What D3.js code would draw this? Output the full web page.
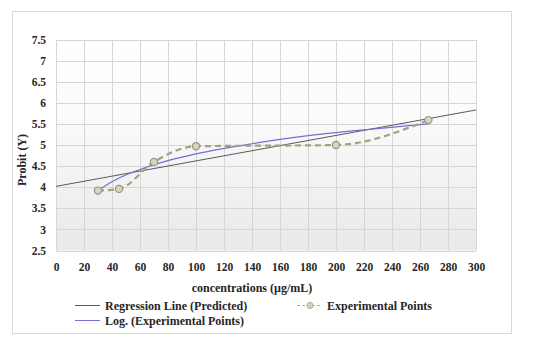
<!DOCTYPE html>
<html>
<head>
<meta charset="utf-8">
<script src="https://cdn.jsdelivr.net/npm/d3@7"></script>
<style>
  body { margin: 0; background: #fff; }
  svg text { font-family: "Liberation Serif", "DejaVu Serif", serif; font-weight: bold; fill: #262626; }
</style>
</head>
<body>
<svg id="chart" width="550" height="346"></svg>
<script>
// Experimental points
const concentrations = [30, 45, 70, 100, 200, 266];
const probits = [3.92, 3.96, 4.6, 4.97, 5.0, 5.59];

// Regression line (predicted) end points
const regressionX = [0, 300];
const regressionY = [4.02, 5.83];

// Log trendline, read at several concentrations
const logX = [30, 40, 50, 60, 80, 100, 140, 180, 220, 266];
const logY = [3.92, 4.13, 4.29, 4.42, 4.63, 4.79, 5.03, 5.22, 5.36, 5.5];

const xTicks = d3.range(0, 301, 20);
const yTicks = [2.5, 3, 3.5, 4, 4.5, 5, 5.5, 6, 6.5, 7, 7.5];

const svg = d3.select('#chart');

// outer frame
svg.append('rect')
  .attr('x', 12.5).attr('y', 11.5)
  .attr('width', 499).attr('height', 322)
  .attr('fill', '#fff').attr('stroke', '#d9d9d9');

const plot = { left: 56, right: 476, top: 39.5, bottom: 250.5 };

const x = d3.scaleLinear().domain([0, 300]).range([plot.left, plot.right]);
const y = d3.scaleLinear().domain([2.5, 7.5]).range([plot.bottom, plot.top]);

// plot background gradient
const defs = svg.append('defs');
const grad = defs.append('linearGradient')
  .attr('id', 'bg').attr('x1', 0).attr('y1', 0).attr('x2', 0).attr('y2', 1);
grad.append('stop').attr('offset', '0%').attr('stop-color', '#ffffff');
grad.append('stop').attr('offset', '35%').attr('stop-color', '#fbfbfb');
grad.append('stop').attr('offset', '100%').attr('stop-color', '#e9e9e9');

svg.append('rect')
  .attr('x', plot.left).attr('y', plot.top)
  .attr('width', plot.right - plot.left).attr('height', plot.bottom - plot.top)
  .attr('fill', 'url(#bg)');

// gridlines
svg.append('g')
  .selectAll('line.v')
  .data(xTicks)
  .join('line')
  .attr('x1', d => Math.round(x(d)) + 0.5).attr('x2', d => Math.round(x(d)) + 0.5)
  .attr('y1', plot.top).attr('y2', plot.bottom)
  .attr('stroke', '#d6d6d6');

svg.append('g')
  .selectAll('line.h')
  .data(yTicks)
  .join('line')
  .attr('x1', plot.left).attr('x2', plot.right)
  .attr('y1', d => Math.round(y(d)) + 0.5).attr('y2', d => Math.round(y(d)) + 0.5)
  .attr('stroke', '#d6d6d6');

// axes (labels only)
const xAxis = svg.append('g')
  .attr('transform', `translate(0,${plot.bottom})`)
  .call(d3.axisBottom(x).tickValues(xTicks).tickSize(0).tickPadding(12));
xAxis.select('.domain').remove();
xAxis.selectAll('text').style('font-size', '11.5px');

const yAxis = svg.append('g')
  .attr('transform', `translate(${plot.left},0)`)
  .call(d3.axisLeft(y).tickValues(yTicks).tickSize(0).tickPadding(10).tickFormat(d3.format('')));
yAxis.select('.domain').remove();
yAxis.selectAll('text').style('font-size', '11.5px');

// regression line
const line = d3.line().x(d => x(d[0])).y(d => y(d[1]));

svg.append('path')
  .datum(d3.zip(regressionX, regressionY))
  .attr('d', line)
  .attr('fill', 'none')
  .attr('stroke', '#5a5a5a')
  .attr('stroke-width', 1);

// log trendline
svg.append('path')
  .datum(d3.zip(logX, logY))
  .attr('d', line.curve(d3.curveMonotoneX))
  .attr('fill', 'none')
  .attr('stroke', '#7470d4')
  .attr('stroke-width', 1.2);

// experimental points
const expLine = d3.line().x(d => x(d[0])).y(d => y(d[1])).curve(d3.curveMonotoneX);
const exp = d3.zip(concentrations, probits);

svg.append('path')
  .datum(exp)
  .attr('d', expLine)
  .attr('fill', 'none')
  .attr('stroke', '#a59f83')
  .attr('stroke-width', 2.2)
  .attr('stroke-dasharray', '6,4');

svg.append('g')
  .selectAll('circle')
  .data(exp)
  .join('circle')
  .attr('cx', d => x(d[0]))
  .attr('cy', d => y(d[1]))
  .attr('r', 3.6)
  .attr('fill', '#d9d3c6')
  .attr('stroke', '#9d9377')
  .attr('stroke-width', 1.2);

// axis titles
svg.append('text')
  .attr('x', 252).attr('y', 292)
  .attr('text-anchor', 'middle')
  .style('font-size', '12px')
  .text('concentrations (µg/mL)');

svg.append('text')
  .attr('transform', 'translate(26,160) rotate(-90)')
  .attr('text-anchor', 'middle')
  .style('font-size', '12px')
  .text('Probit (Y)');

// legend
const legend = svg.append('g').style('font-size', '12px');

legend.append('line')
  .attr('x1', 75).attr('x2', 100).attr('y1', 305.5).attr('y2', 305.5)
  .attr('stroke', '#5a5a5a');
legend.append('text').attr('x', 105).attr('y', 309.5).text('Regression Line (Predicted)');

legend.append('line')
  .attr('x1', 297).attr('x2', 322).attr('y1', 305.5).attr('y2', 305.5)
  .attr('stroke', '#b5af98').attr('stroke-width', 1.2).attr('stroke-dasharray', '3,2');
legend.append('circle')
  .attr('cx', 310).attr('cy', 305.5).attr('r', 3)
  .attr('fill', '#d9d3c6').attr('stroke', '#b1a78c');
legend.append('text').attr('x', 327).attr('y', 309.5).text('Experimental Points');

legend.append('line')
  .attr('x1', 75).attr('x2', 100).attr('y1', 320.5).attr('y2', 320.5)
  .attr('stroke', '#7470d4');
legend.append('text').attr('x', 105).attr('y', 324.5).text('Log. (Experimental Points)');
</script>
</body>
</html>
